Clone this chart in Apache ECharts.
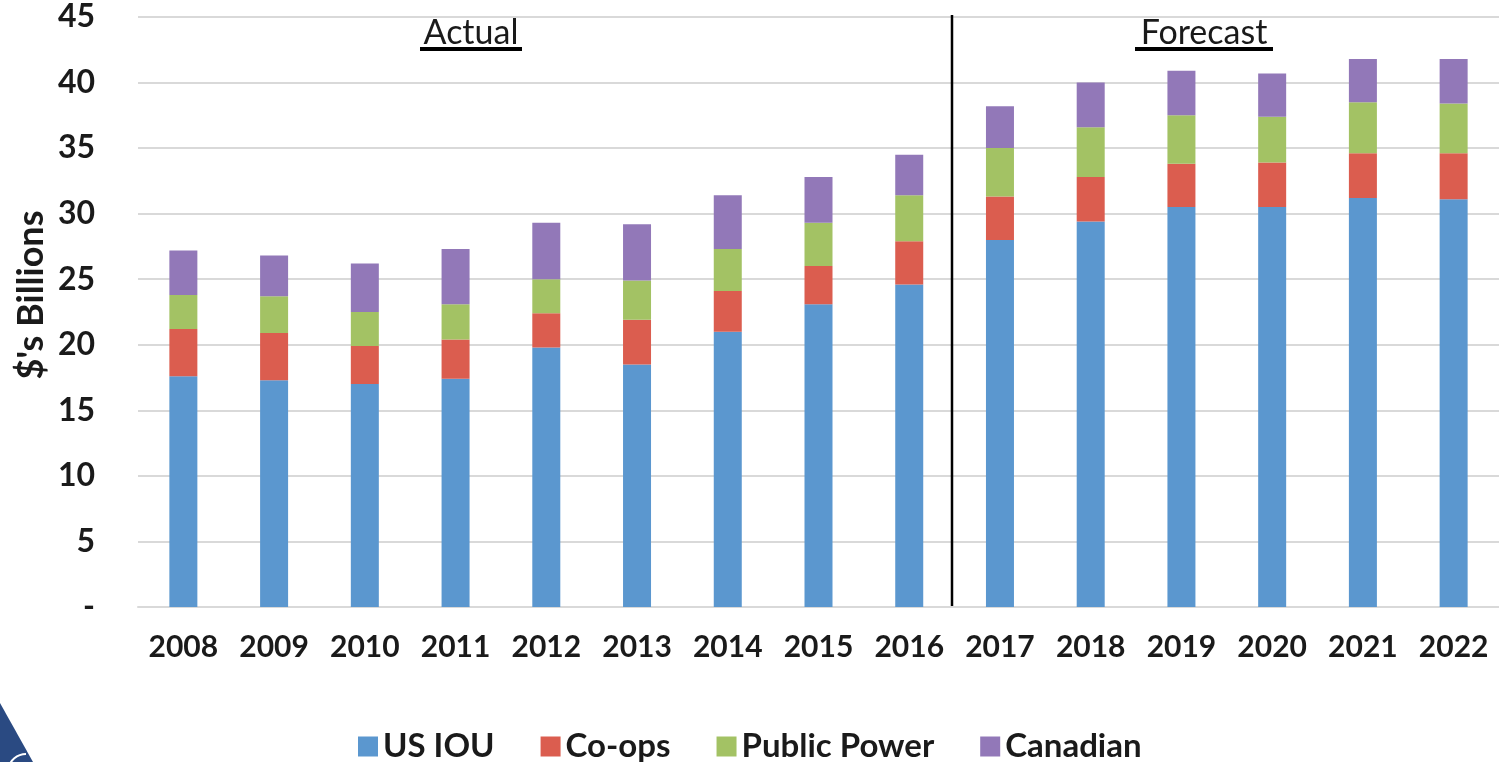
<!DOCTYPE html>
<html>
<head>
<meta charset="utf-8">
<title>Transmission Investment</title>
<script src="https://cdn.jsdelivr.net/npm/echarts@6/dist/echarts.min.js"></script>
<style>
  html, body { margin: 0; padding: 0; background: #ffffff; }
  #chart { width: 1499px; height: 762px; }
</style>
</head>
<body>
<div id="chart"></div>
<script>
// Annual investment, $ billions, by owner type
const years = ['2008', '2009', '2010', '2011', '2012', '2013', '2014', '2015',
               '2016', '2017', '2018', '2019', '2020', '2021', '2022'];
const usIou       = [17.6, 17.3, 17.0, 17.4, 19.8, 18.5, 21.0, 23.1, 24.6, 28.0, 29.4, 30.5, 30.5, 31.2, 31.1];
const coOps       = [3.6, 3.6, 2.9, 3.0, 2.6, 3.4, 3.1, 2.9, 3.3, 3.3, 3.4, 3.3, 3.4, 3.4, 3.5];
const publicPower = [2.6, 2.8, 2.6, 2.7, 2.6, 3.0, 3.2, 3.3, 3.5, 3.7, 3.8, 3.7, 3.5, 3.9, 3.8];
const canadian    = [3.4, 3.1, 3.7, 4.2, 4.3, 4.3, 4.1, 3.5, 3.1, 3.2, 3.4, 3.4, 3.3, 3.3, 3.4];
const yTicks = { min: 0, max: 45, step: 5 };
const periodLabels = ['Actual', 'Forecast'];
const yTitle = "$'s Billions";
const lastActualIndex = 8;

const FONT = 'Lato, "Open Sans", sans-serif';
const colors = ['#5b97cf', '#db5d4f', '#a3c264', '#9278b8'];

const chart = echarts.init(document.getElementById('chart'), null, { renderer: 'canvas' });

function stackSeries(name, data, color) {
  return {
    name: name,
    type: 'bar',
    stack: 'total',
    data: data,
    barWidth: 28,
    itemStyle: { color: color },
    emphasis: { disabled: true },
    animation: false
  };
}

chart.setOption({
  animation: false,
  grid: { left: 138, top: 17, width: 1365, height: 590, containLabel: false },
  legend: {
    left: 353,
    top: 725,
    itemWidth: 20,
    itemHeight: 20,
    itemGap: 46,
    icon: 'rect',
    selectedMode: false,
    textStyle: { fontFamily: FONT, fontWeight: 'bold', fontSize: 33, color: '#1a1a1a' },
    data: ['US IOU', 'Co-ops', 'Public Power', 'Canadian']
  },
  xAxis: {
    type: 'category',
    data: years,
    axisTick: { show: false },
    axisLine: { lineStyle: { color: '#d9d9d9', width: 2 } },
    axisLabel: { margin: 25, fontFamily: FONT, fontWeight: 'bold', fontSize: 30, color: '#1a1a1a' }
  },
  yAxis: {
    type: 'value',
    min: yTicks.min,
    max: yTicks.max,
    interval: yTicks.step,
    axisLine: { show: false },
    axisTick: { show: false },
    axisLabel: {
      margin: 43,
      fontFamily: FONT, fontWeight: 'bold', fontSize: 32, color: '#1a1a1a',
      formatter: v => (v === 0 ? '-' : String(v))
    },
    splitLine: { lineStyle: { color: '#d9d9d9', width: 2 } }
  },
  series: [
    stackSeries('US IOU', usIou, colors[0]),
    stackSeries('Co-ops', coOps, colors[1]),
    stackSeries('Public Power', publicPower, colors[2]),
    stackSeries('Canadian', canadian, colors[3])
  ]
});

// Divider between actual and forecast years, plus the period headings
const xLast = chart.convertToPixel({ xAxisIndex: 0 }, lastActualIndex);
const xNext = chart.convertToPixel({ xAxisIndex: 0 }, lastActualIndex + 1);
const xDiv = Math.round((xLast + xNext) / 2) - 3;
const yTop = chart.convertToPixel({ yAxisIndex: 0 }, yTicks.max) - 2;
const yBottom = chart.convertToPixel({ yAxisIndex: 0 }, yTicks.min);
const headingY = 33;

function heading(text, cx, width) {
  return [
    {
      type: 'text', x: cx, y: headingY, silent: true,
      style: {
        text: text, fontFamily: FONT, fontSize: 34, fill: '#1a1a1a',
        align: 'center', verticalAlign: 'middle'
      }
    },
    {
      type: 'rect', silent: true,
      shape: { x: cx - width / 2, y: headingY + 14, width: width, height: 4 },
      style: { fill: '#000000' }
    }
  ];
}

// Logo fragment in the bottom-left corner
const logo = [
  {
    type: 'polygon', silent: true,
    shape: { points: [[0, 703], [33, 762], [0, 762]] },
    style: { fill: '#2a4a82' }
  },
  {
    type: 'arc', silent: true,
    shape: { cx: 26, cy: 772, r: 18, startAngle: Math.PI * 1.05, endAngle: Math.PI * 1.5 },
    style: { stroke: '#ffffff', lineWidth: 2, fill: null }
  }
];

chart.setOption({
  graphic: [
    {
      type: 'line', silent: true,
      shape: { x1: xDiv, y1: yTop, x2: xDiv, y2: yBottom },
      style: { stroke: '#000000', lineWidth: 2.5 }
    },
    {
      type: 'text', x: 31, y: 295, rotation: Math.PI / 2, silent: true,
      style: {
        text: yTitle, fontFamily: FONT, fontWeight: 'bold', fontSize: 36, fill: '#1a1a1a',
        align: 'center', verticalAlign: 'middle'
      }
    },
    ...heading(periodLabels[0], 471, 102),
    ...heading(periodLabels[1], 1204, 138),
    ...logo
  ]
});
</script>
</body>
</html>
